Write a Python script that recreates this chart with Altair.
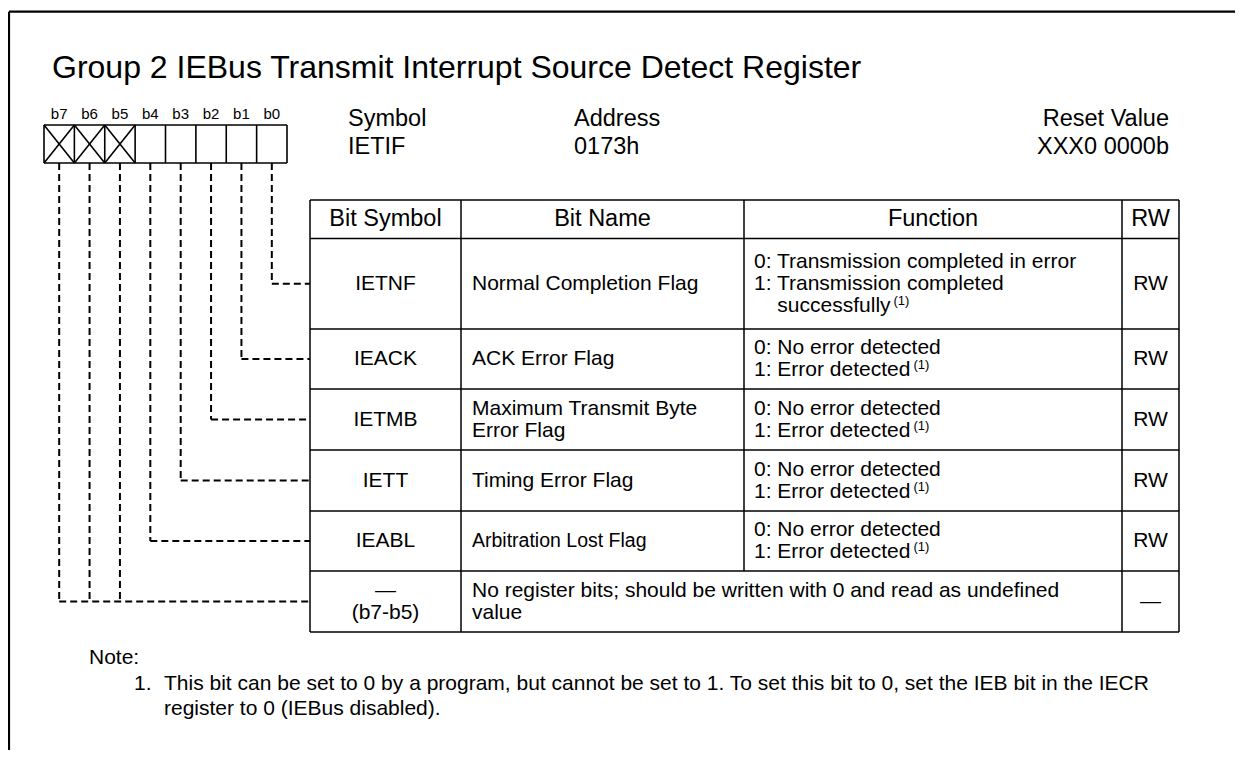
import altair as alt
import pandas as pd

# ------------------------------------------------------------------ content
title = "Group 2 IEBus Transmit Interrupt Source Detect Register"
bit_labels = ["b7", "b6", "b5", "b4", "b3", "b2", "b1", "b0"]
reserved_bits = ["b7", "b6", "b5"]
connected_bits = ["b0", "b1", "b2", "b3", "b4"]  # row order in table
info_heads = ["Symbol", "Address", "Reset Value"]
info_values = ["IETIF", "0173h", "XXX0 0000b"]
col_heads = ["Bit Symbol", "Bit Name", "Function", "RW"]
bit_symbols = ["IETNF", "IEACK", "IETMB", "IETT", "IEABL"]
bit_names = [["Normal Completion Flag"], ["ACK Error Flag"],
             ["Maximum Transmit Byte", "Error Flag"], ["Timing Error Flag"],
             ["Arbitration Lost Flag"]]
narrow_names = ["Arbitration Lost Flag"]
functions = [["0: Transmission completed in error", "1: Transmission completed", "successfully"],
             ["0: No error detected", "1: Error detected"],
             ["0: No error detected", "1: Error detected"],
             ["0: No error detected", "1: Error detected"],
             ["0: No error detected", "1: Error detected"]]
rw_values = ["RW", "RW", "RW", "RW", "RW"]
reserved_symbol = ["\u2014", "(b7-b5)"]
reserved_text = ["No register bits; should be written with 0 and read as undefined", "value"]
reserved_rw = "\u2014"
footnote_mark = "(1)"
note_head = "Note:"
note_num = "1."
note_lines = ["This bit can be set to 0 by a program, but cannot be set to 1. To set this bit to 0, set the IEB bit in the IECR",
              "register to 0 (IEBus disabled)."]

# ------------------------------------------------------------------ layout
W, H = 1227, 742
FONT = "Liberation Sans"
BOX_L, BOX_R, BOX_T, BOX_B = 44, 287, 125, 163
TAB_X = [310, 461, 744, 1122, 1179]
TAB_Y = [200, 238.5, 329, 389, 450, 511, 571, 632]
LINE = 22
FS_BODY, FS_HEAD, FS_SUP, FS_NARROW = 21, 23.5, 13, 19.5

ARIAL = {' ': 278, '(': 333, ')': 333, ',': 278, '-': 333, '.': 278, ':': 278, ';': 278,
         'A': 667, 'B': 667, 'C': 722, 'D': 722, 'E': 667, 'F': 611, 'G': 778, 'I': 278,
         'L': 556, 'M': 833, 'N': 722, 'R': 722, 'S': 667, 'T': 611, 'W': 944, 'X': 667}
for ch in "0123456789":
    ARIAL[ch] = 556
ARIAL.update({'a': 556, 'b': 556, 'c': 500, 'd': 556, 'e': 556, 'f': 278, 'g': 556, 'h': 556,
              'i': 222, 'l': 222, 'm': 833, 'n': 556, 'o': 556, 'p': 556, 'r': 333, 's': 500,
              't': 278, 'u': 556, 'v': 500, 'w': 722, 'x': 500, 'y': 500})


def text_w(s, fs):
    return sum(ARIAL.get(c, 556) for c in s) * fs / 1000.0


xs = alt.Scale(domain=[8, 8 + W], nice=False, zero=False)
ys = alt.Scale(domain=[8, 8 + H], nice=False, zero=False, reverse=True)


def rules(rows, width=1.5, dash=None):
    df = pd.DataFrame(rows, columns=["x", "y", "x2", "y2"])
    kw = dict(color="black", strokeWidth=width)
    if dash:
        kw["strokeDash"] = dash
        kw["strokeCap"] = "butt"
    return alt.Chart(df).mark_rule(**kw).encode(
        x=alt.X("x:Q", scale=xs, axis=None), y=alt.Y("y:Q", scale=ys, axis=None),
        x2="x2:Q", y2="y2:Q")


def texts(rows, size, align="left", baseline="middle", font=FONT):
    df = pd.DataFrame(rows, columns=["x", "y", "t"])
    return alt.Chart(df).mark_text(align=align, baseline=baseline, fontSize=size,
                                   font=font, color="black").encode(
        x=alt.X("x:Q", scale=xs, axis=None), y=alt.Y("y:Q", scale=ys, axis=None), text="t:N")


layers = []

# frame
layers.append(rules([[9, 11.7, 1243, 11.7], [9, 11.7, 9, 8 + H]], width=2.2))

# register box
cw = (BOX_R - BOX_L) / len(bit_labels)
box = [[BOX_L, BOX_T, BOX_R, BOX_T], [BOX_L, BOX_B, BOX_R, BOX_B]]
for i in range(len(bit_labels) + 1):
    box.append([BOX_L + i * cw, BOX_T, BOX_L + i * cw, BOX_B])
for b in reserved_bits:
    i = bit_labels.index(b)
    x0, x1 = BOX_L + i * cw, BOX_L + (i + 1) * cw
    box.append([x0, BOX_T, x1, BOX_B])
    box.append([x1, BOX_T, x0, BOX_B])
layers.append(rules(box, width=1.6))

centers = {b: BOX_L + (i + 0.5) * cw for i, b in enumerate(bit_labels)}
layers.append(texts([[centers[b], 114, b] for b in bit_labels], 15, align="center"))

# table grid
grid = []
for y in TAB_Y:
    grid.append([TAB_X[0], y, TAB_X[-1], y])
for j, x in enumerate(TAB_X):
    if j == 2:
        grid.append([x, TAB_Y[0], x, TAB_Y[-2]])
    else:
        grid.append([x, TAB_Y[0], x, TAB_Y[-1]])
layers.append(rules(grid, width=1.5))

row_mid = [(TAB_Y[k] + TAB_Y[k + 1]) / 2 for k in range(1, len(TAB_Y) - 1)]

# dashed connectors
dash = []
for r, b in enumerate(connected_bits):
    cx, cy = centers[b], row_mid[r]
    dash.append([cx, BOX_B, cx, cy])
    dash.append([cx, cy, TAB_X[0], cy])
last = row_mid[-1]
for b in reserved_bits:
    dash.append([centers[b], BOX_B, centers[b], last])
dash.append([centers[reserved_bits[0]], last, TAB_X[0], last])
layers.append(rules(dash, width=2, dash=[7, 4]))

# title
layers.append(texts([[52, 77.5, title]], 32, baseline="alphabetic"))

# symbol / address / reset value
info_x = [348, 574, 1169]
info_al = ["left", "left", "right"]
for k in range(3):
    layers.append(texts([[info_x[k], 119, info_heads[k]], [info_x[k], 147, info_values[k]]],
                        FS_HEAD, align=info_al[k]))

# table headers
hdr_y = (TAB_Y[0] + TAB_Y[1]) / 2
layers.append(texts([[(TAB_X[k] + TAB_X[k + 1]) / 2, hdr_y, col_heads[k]] for k in range(4)],
                    FS_HEAD, align="center"))


def stack(lines, mid):
    n = len(lines)
    return [(mid + (k - (n - 1) / 2) * LINE, s) for k, s in enumerate(lines)]


center_rows, left_rows, narrow_rows, sup_rows = [], [], [], []
sym_cx = (TAB_X[0] + TAB_X[1]) / 2
rw_cx = (TAB_X[3] + TAB_X[4]) / 2
NAME_X, FUNC_X = TAB_X[1] + 11, TAB_X[2] + 10
for r in range(len(bit_symbols)):
    m = row_mid[r]
    center_rows.append([sym_cx, m, bit_symbols[r]])
    center_rows.append([rw_cx, m, rw_values[r]])
    for y, s in stack(bit_names[r], m):
        (narrow_rows if s in narrow_names else left_rows).append([NAME_X, y, s])
    fl = stack(functions[r], m)
    for k, (y, s) in enumerate(fl):
        x = FUNC_X + (text_w("1: ", FS_BODY) if not s[:2] in ("0:", "1:") else 0)
        left_rows.append([x, y, s])
        if k == len(fl) - 1:
            sup_rows.append([x + text_w(s, FS_BODY) + 3, y - 5, footnote_mark])
m = row_mid[-1]
for y, s in stack(reserved_symbol, m):
    center_rows.append([sym_cx, y, s])
for y, s in stack(reserved_text, m):
    left_rows.append([NAME_X, y, s])
center_rows.append([rw_cx, m, reserved_rw])

layers.append(texts(center_rows, FS_BODY, align="center"))
layers.append(texts(left_rows, FS_BODY))
layers.append(texts(narrow_rows, FS_NARROW))
layers.append(texts(sup_rows, FS_SUP))

# note
layers.append(texts([[89, 658, note_head], [134, 684, note_num],
                     [164, 684, note_lines[0]], [164, 709, note_lines[1]]], FS_BODY))

chart = alt.layer(*layers).properties(width=W, height=H, padding=0, autosize="none") \
    .configure_view(stroke=None)

chart.save("out.html", embed_options={"renderer": "svg", "actions": False})
